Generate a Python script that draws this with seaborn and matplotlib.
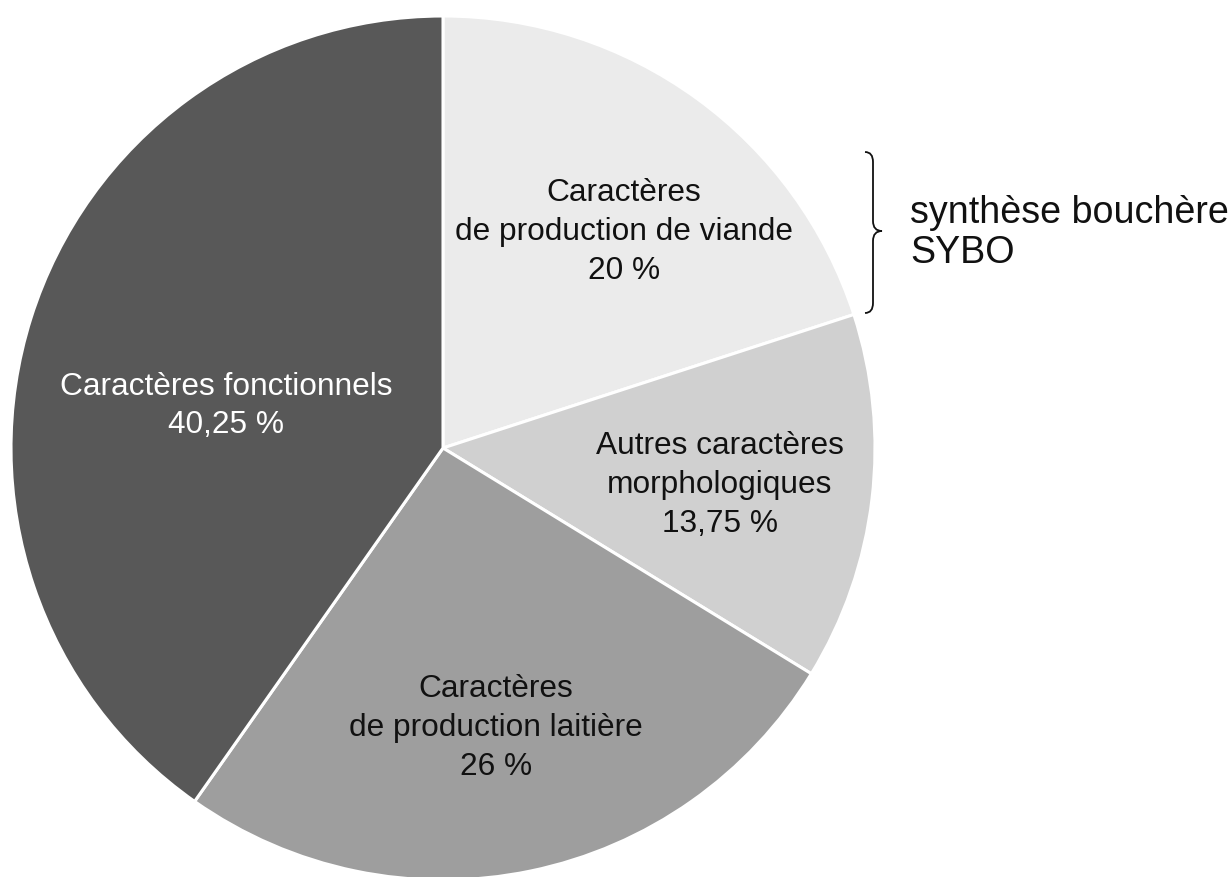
import numpy as np
import matplotlib
matplotlib.use("Agg")
import matplotlib.pyplot as plt
from matplotlib.path import Path
from matplotlib.patches import PathPatch
import seaborn as sns

# données
categories = ["Caractères\nde production de viande",
              "Autres caractères\nmorphologiques",
              "Caractères\nde production laitière",
              "Caractères fonctionnels"]
valeurs = [20, 13.75, 26, 40.25]
pct_labels = ["20 %", "13,75 %", "26 %", "40,25 %"]
couleurs = ["#ebebeb", "#d0d0d0", "#9e9e9e", "#585858"]
couleurs_texte = ["#111111", "#111111", "#111111", "#ffffff"]

sns.set_theme(style="white")
plt.rcParams['font.family'] = ['Liberation Sans', 'DejaVu Sans']

W, H = 1229, 877
fig = plt.figure(figsize=(W / 100, H / 100), dpi=100)
ax = fig.add_axes([0, 0, 1, 1])

cx, cy, r = 443, H - 448, 432
wedges, _ = ax.pie(valeurs, colors=couleurs, startangle=90, counterclock=False,
                   center=(cx, cy), radius=r, frame=True,
                   wedgeprops=dict(edgecolor='white', linewidth=2.2))
ax.set_xlim(0, W)
ax.set_ylim(0, H)
ax.set_aspect('equal')
ax.axis('off')

# positions des étiquettes (pixels)
pos = [(624, 232), (720, 485), (496, 728), (226, 406)]
for lab, pct, (x, y), c in zip(categories, pct_labels, pos, couleurs_texte):
    ax.text(x, H - y, lab + "\n" + pct, ha='center', va='center',
            fontsize=22.8, color=c, linespacing=1.38)

# accolade
bx, top, bot = 865, 152, 313
mid = 231
verts = [(bx, H - top), (bx + 8, H - top), (bx + 8, H - top - 10),
         (bx + 8, H - mid + 10), (bx + 8, H - mid), (bx + 17, H - mid),
         (bx + 8, H - mid), (bx + 8, H - mid - 10),
         (bx + 8, H - bot + 10), (bx + 8, H - bot), (bx, H - bot)]
codes = [Path.MOVETO, Path.CURVE3, Path.CURVE3,
         Path.LINETO, Path.CURVE3, Path.CURVE3,
         Path.CURVE3, Path.CURVE3,
         Path.LINETO, Path.CURVE3, Path.CURVE3]
ax.add_patch(PathPatch(Path(verts, codes), fill=False, edgecolor='#111111', lw=1.3))

ax.text(910, H - 233, "synthèse bouchère\nSYBO", ha='left', va='center',
        fontsize=27.1, color='#111111', linespacing=1.12)

fig.savefig("out.png", dpi=100, facecolor='white')
